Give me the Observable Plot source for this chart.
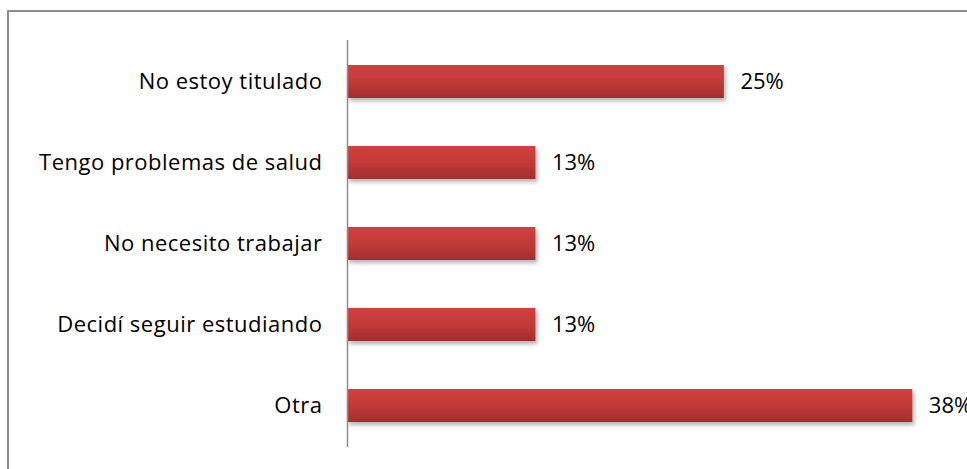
<!DOCTYPE html>
<html>
<head>
<meta charset="utf-8">
<script src="https://cdn.jsdelivr.net/npm/d3@7"></script>
<script src="https://cdn.jsdelivr.net/npm/@observablehq/plot@0.6"></script>
<style>
  html, body { margin: 0; padding: 0; background: #fff; overflow: hidden; width: 967px; height: 469px; }
  #frame { position: absolute; left: 7px; top: 10px; width: 2000px; height: 2000px; border: 2px solid #8e8e8e; box-sizing: border-box; }
  #chart { position: absolute; left: 0; top: 0; }
  #chart svg g[aria-label="y-axis tick label"] text { letter-spacing: 0.5px; }
</style>
</head>
<body>
<div id="frame"></div>
<div id="chart"></div>
<script>
const categories = ["No estoy titulado", "Tengo problemas de salud", "No necesito trabajar", "Decidí seguir estudiando", "Otra"];
const values = [25, 12.5, 12.5, 12.5, 37.5];
const valueLabels = ["25%", "13%", "13%", "13%", "38%"];

const data = categories.map((c, i) => ({category: c, value: values[i], label: valueLabels[i]}));

const chart = Plot.plot({
  width: 967,
  height: 469,
  marginLeft: 347,
  marginRight: 17,
  marginTop: 40,
  marginBottom: 22,
  style: {fontFamily: "'Open Sans', Lato, sans-serif", fontSize: "22px", color: "#000", background: "transparent", overflow: "visible"},
  x: {domain: [0, 40], axis: null},
  y: {domain: categories, padding: 0, label: null},
  marks: [
    Plot.axisY({tickSize: 0, tickPadding: 25, fontSize: 22, label: null}),
    Plot.barX(data, {x: "value", y: "category", fill: "url(#barGrad)", insetTop: 24, insetBottom: 24}),
    Plot.ruleX([0], {stroke: "#8e8e8e", strokeWidth: 1.5}),
    Plot.text(data, {x: "value", y: "category", text: "label", textAnchor: "start", dx: 16, fontSize: 22, fill: "#000"})
  ]
});

const svg = d3.select(chart);
const defs = svg.insert("defs", ":first-child");
const g = defs.append("linearGradient").attr("id", "barGrad").attr("x1", 0).attr("y1", 0).attr("x2", 0).attr("y2", 1);
g.append("stop").attr("offset", "0%").attr("stop-color", "#d0403e");
g.append("stop").attr("offset", "50%").attr("stop-color", "#c23a38");
g.append("stop").attr("offset", "100%").attr("stop-color", "#a22d2d");
const f = defs.append("filter").attr("id", "shadow").attr("x", "-5%").attr("y", "-30%").attr("width", "115%").attr("height", "180%");
f.append("feDropShadow").attr("dx", 2).attr("dy", 3).attr("stdDeviation", 2).attr("flood-color", "#000").attr("flood-opacity", 0.3);
svg.selectAll("rect").filter(function() { return this.getAttribute("fill") === "url(#barGrad)" || (this.parentNode && this.parentNode.getAttribute("fill") === "url(#barGrad)"); })
  .attr("filter", "url(#shadow)");

document.getElementById("chart").appendChild(chart);
</script>
</body>
</html>
